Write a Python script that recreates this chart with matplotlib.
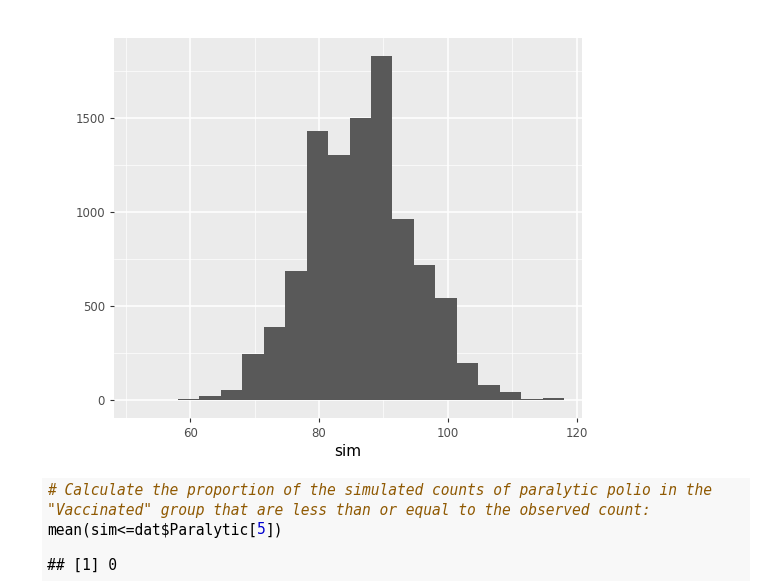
import numpy as np
import matplotlib
matplotlib.use("Agg")
import matplotlib.pyplot as plt
from matplotlib.patches import Rectangle

bin_start = 58.1
bin_width = 3.33
counts = [4, 23, 53, 243, 389, 686, 1431, 1303, 1502, 1830, 963, 720, 540, 195, 78, 43, 4, 11]
x_ticks = [60, 80, 100, 120]
y_ticks = [0, 500, 1000, 1500]

W, H = 770, 581
fig = plt.figure(figsize=(W/100, H/100), dpi=100)
fig.patch.set_facecolor("white")

# code block background
fig.patches.append(Rectangle((42/W, 0), (750-42)/W, (581-478)/H, transform=fig.transFigure,
                             facecolor="#f8f8f8", edgecolor="none", zorder=0))

ax = fig.add_axes([114/W, 1-418/H, (582-114)/W, (418-38)/H])
ax.set_facecolor("#ebebeb")
edges = bin_start + bin_width*np.arange(len(counts))
ax.bar(edges, counts, width=bin_width, align="edge", color="#595959", zorder=3)
ax.set_xlim(48.2, 120.8)
ax.set_ylim(-96, 1926)
ax.set_xticks(x_ticks)
ax.set_xticks([50, 70, 90, 110], minor=True)
ax.set_yticks(y_ticks)
ax.set_yticks([250, 750, 1250, 1750], minor=True)
ax.grid(which="major", color="white", lw=1.1, zorder=1)
ax.grid(which="minor", color="white", lw=0.5, zorder=1)
for s in ax.spines.values():
    s.set_visible(False)
ax.tick_params(which="major", colors="#333333", labelcolor="#4d4d4d", labelsize=8.5, length=3)
ax.tick_params(which="minor", length=0)
ax.set_xlabel("sim", fontsize=11, color="black", labelpad=3)

mono = "DejaVu Sans Mono"
fig.text(47/W, 1-491/H, '# Calculate the proportion of the simulated counts of paralytic polio in the',
         family=mono, style="italic", color="#8f5902", fontsize=10.5, va="center")
fig.text(47/W, 1-511/H, '"Vaccinated" group that are less than or equal to the observed count:',
         family=mono, style="italic", color="#8f5902", fontsize=10.5, va="center")
t = fig.text(47/W, 1-530/H, 'mean(sim<=dat$Paralytic[', family=mono, color="black", fontsize=10.5, va="center")
fig.canvas.draw()
bb = t.get_window_extent()
t2 = fig.text(bb.x1/W, 1-530/H, '5', family=mono, color="#0000cf", fontsize=10.5, va="center")
fig.canvas.draw()
bb2 = t2.get_window_extent()
fig.text(bb2.x1/W, 1-530/H, '])', family=mono, color="black", fontsize=10.5, va="center")
fig.text(47/W, 1-565/H, '## [1] 0', family=mono, color="black", fontsize=10.5, va="center")

fig.savefig("out.png", dpi=100)
